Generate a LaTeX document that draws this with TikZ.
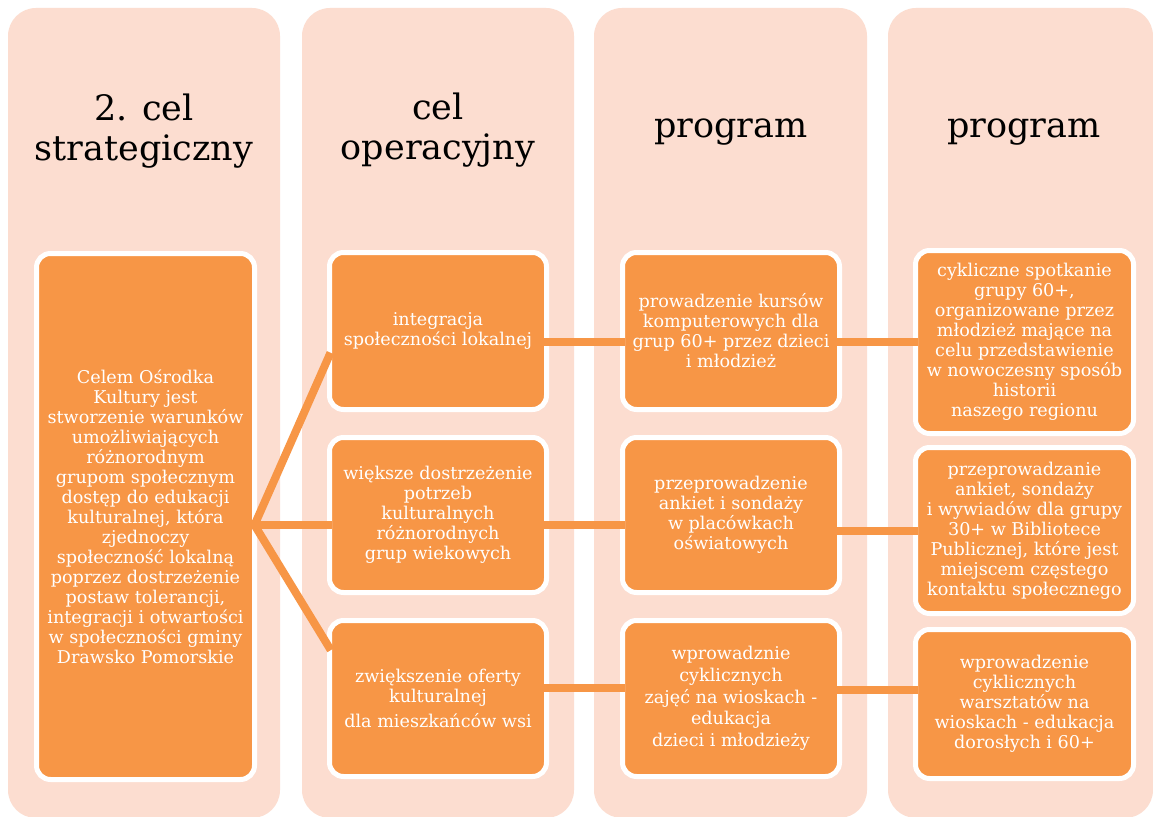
\documentclass[tikz,border=0pt]{standalone}
\usepackage{fontspec}
\setmainfont{DejaVu Serif}
\usetikzlibrary{calc}
\definecolor{panelc}{RGB}{252,221,208}
\definecolor{boxc}{RGB}{247,150,70}
\begin{document}
\begin{tikzpicture}[x=1pt,y=-1pt,
  panel/.style={fill=panelc, rounded corners=28pt},
  hdr/.style={font=\fontsize{35}{40}\selectfont, align=center, text=black, inner sep=0pt},
  box/.style={draw=white, line width=5pt, fill=boxc, rounded corners=14pt, outer sep=0pt, inner sep=0pt, text=white, align=center, font=\fontsize{17.6}{20}\selectfont},
  link/.style={draw=boxc, line width=8pt, shorten <=-2.5pt, shorten >=-2.5pt}]
\useasboundingbox (0,0) rectangle (1153,816);
\clip (0,0) rectangle (1153,816);
\fill[white] (0,0) rectangle (1153,816);
% panels
\fill[panel] (8,8) rectangle (280,818);
\fill[panel] (302,8) rectangle (574,818);
\fill[panel] (594,8) rectangle (867,818);
\fill[panel] (888,8) rectangle (1153,818);
% headers
\node[hdr] (h1) at (144,131) {2. cel\\strategiczny};
\node[hdr] (h2) at (438,130) {cel\\operacyjny};
\node[hdr] (h3) at (731,132) {program};
\node[hdr] (h4) at (1024,132) {program};
% boxes
\node[box, minimum width=218pt, minimum height=526pt] (big) at (145.5,516.5)
 {Celem Ośrodka\\Kultury jest\\stworzenie warunków\\umożliwiających\\różnorodnym\\grupom społecznym\\dostęp do edukacji\\kulturalnej, która\\zjednoczy\\społeczność lokalną\\poprzez dostrzeżenie\\postaw tolerancji,\\integracji i otwartości\\w społeczności gminy\\Drawsko Pomorskie};
\node[box, minimum width=217pt, minimum height=157pt] (a1) at (438,331) {integracja\\społeczności lokalnej};
\node[box, minimum width=217pt, minimum height=155pt] (a2) at (438,515) {większe dostrzeżenie\\potrzeb\\kulturalnych\\różnorodnych\\grup wiekowych};
\node[box, minimum width=217pt, minimum height=156pt] (a3) at (438,698.5) {zwiększenie oferty\\kulturalnej\\[5pt]dla mieszkańców wsi};
\node[box, minimum width=217pt, minimum height=157pt] (b1) at (731,331) {prowadzenie kursów\\komputerowych dla\\grup 60+ przez dzieci\\i młodzież};
\node[box, minimum width=217pt, minimum height=155pt] (b2) at (731,515) {przeprowadzenie\\ankiet i sondaży\\w placówkach\\oświatowych};
\node[box, minimum width=217pt, minimum height=156pt, font=\fontsize{17.6}{21.7}\selectfont] (b3) at (731,698.5) {wprowadznie\\cyklicznych\\zajęć na wioskach -\\edukacja\\dzieci i młodzieży};
\node[box, minimum width=218pt, minimum height=183pt] (c1) at (1024.5,342) {cykliczne spotkanie\\grupy 60+,\\organizowane przez\\młodzież mające na\\celu przedstawienie\\w nowoczesny sposób\\historii\\naszego regionu};
\node[box, minimum width=218pt, minimum height=166pt] (c2) at (1024.5,530.5) {przeprowadzanie\\ankiet, sondaży\\i wywiadów dla grupy\\30+ w Bibliotece\\Publicznej, które jest\\miejscem częstego\\kontaktu społecznego};
\node[box, minimum width=218pt, minimum height=149pt] (c3) at (1024.5,704) {wprowadzenie\\cyklicznych\\warsztatów na\\wioskach - edukacja\\dorosłych i 60+};
% helper levels
\coordinate (y0) at (0,525);
\coordinate (y1) at (0,342);
\coordinate (yd1) at (0,355);
\coordinate (yd3) at (0,648);
\coordinate (y2a) at (0,525);
\coordinate (y2b) at (0,531);
\coordinate (y3a) at (0,688);
\coordinate (y3b) at (0,690);
% connectors
\draw[link] (big.east |- y0) -- (a1.west |- yd1);
\draw[link] (big.east |- y0) -- (a2.west |- y2a);
\draw[link] (big.east |- y0) -- (a3.west |- yd3);
\draw[link] (a1.east |- y1) -- (b1.west |- y1);
\draw[link] (a2.east |- y2a) -- (b2.west |- y2a);
\draw[link] (a3.east |- y3a) -- (b3.west |- y3a);
\draw[link] (b1.east |- y1) -- (c1.west |- y1);
\draw[link] (b2.east |- y2b) -- (c2.west |- y2b);
\draw[link] (b3.east |- y3b) -- (c3.west |- y3b);
\end{tikzpicture}
\end{document}
